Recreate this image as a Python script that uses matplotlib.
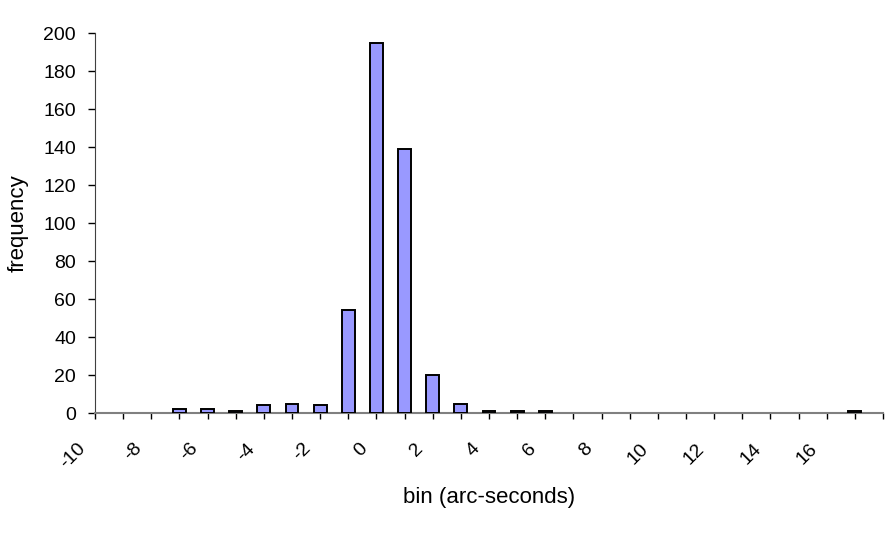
import matplotlib
matplotlib.use("Agg")
import matplotlib.pyplot as plt
from matplotlib.transforms import ScaledTranslation

bins = list(range(-10, 19))
freq = [0, 0, 0, 2, 2, 1, 4, 5, 4, 54, 195, 139, 20, 5, 1, 1, 1,
        0, 0, 0, 0, 0, 0, 0, 0, 0, 0, 1, 0]
label_bins = list(range(-10, 17, 2))
y_ticks = list(range(0, 201, 20))

plt.rcParams['font.family'] = ['Liberation Sans', 'DejaVu Sans']

PX = 72 / 100  # points per pixel

fig = plt.figure(figsize=(8.94, 5.36), dpi=100)
ax = fig.add_axes([95/894, 1-413/536, (883-95)/894, (413-33)/536])

nz_bins = [b for b, f in zip(bins, freq) if f > 0]
nz_freq = [f for f in freq if f > 0]
ax.bar(nz_bins, nz_freq, width=0.46, color='#9999FF', edgecolor='black',
       linewidth=1.4, zorder=3)

ax.set_xlim(-10, 18)
ax.set_ylim(0, 200)
ax.set_yticks(y_ticks)
ax.set_yticklabels([str(v) for v in y_ticks], fontsize=14)
ax.set_xticks(bins, minor=True)
ax.set_xticks(label_bins)
ax.set_xticklabels([str(v) for v in label_bins], fontsize=14, rotation=45,
                   ha='right', va='center', rotation_mode='anchor')
ax.tick_params(axis='x', which='both', length=6*PX, width=1, color='black',
               direction='out', pad=27*PX)
ax.tick_params(axis='y', length=7*PX, width=1, color='black', direction='out',
               pad=12*PX)

offset = ScaledTranslation(-12/100, 0, fig.dpi_scale_trans)
for lab in ax.get_xticklabels():
    lab.set_transform(lab.get_transform() + offset)

for s in ['top', 'right']:
    ax.spines[s].set_visible(False)
ax.spines['left'].set_color('#404040')
ax.spines['bottom'].set_color('#808080')
ax.spines['bottom'].set_linewidth(1.5)

fig.text(489/894, 1-497/536, 'bin (arc-seconds)', ha='center', va='center', fontsize=16)
fig.text(18/894, 1-223/536, 'frequency', ha='center', va='center', fontsize=16, rotation=90)

fig.savefig('out.png', dpi=100)
